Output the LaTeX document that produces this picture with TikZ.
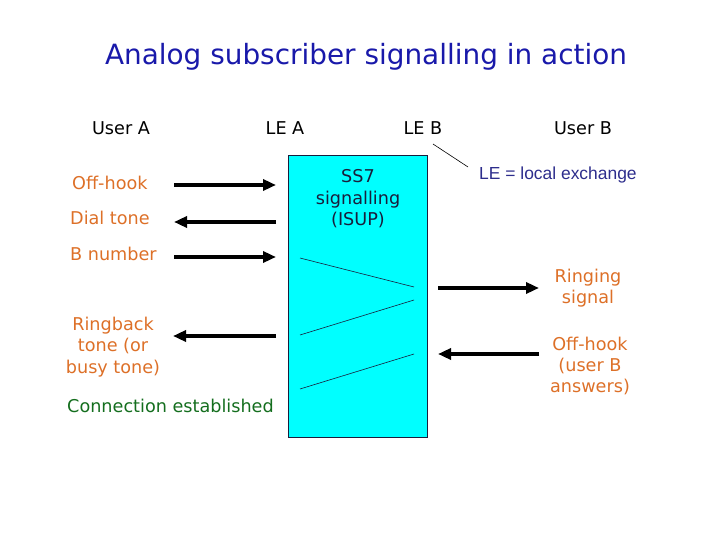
\documentclass[tikz,border=0pt]{standalone}
\usepackage{fontspec}
\setmainfont{DejaVu Sans}
\newfontfamily\legendfont{Liberation Sans}
\usetikzlibrary{arrows.meta, positioning}
\definecolor{titleblue}{RGB}{25,25,170}
\definecolor{sigorange}{RGB}{221,112,40}
\definecolor{legendblue}{RGB}{45,45,140}
\definecolor{okgreen}{RGB}{20,110,30}
\definecolor{isupink}{RGB}{25,30,60}
\definecolor{boxcyan}{RGB}{0,255,255}

\begin{document}
\begin{tikzpicture}[x=1bp, y=-1bp,
    hdr/.style  = {font=\fontsize{17.7}{21.5}\selectfont, inner sep=0pt},
    sig/.style  = {font=\fontsize{17.7}{21.5}\selectfont, text=sigorange,
                   align=center, inner sep=0pt},
    msg/.style  = {line width=3.5bp, -{Triangle[length=13bp, width=11bp]}},
    isup/.style = {line width=0.6bp, draw=isupink}
  ]
  \useasboundingbox (0,0) rectangle (720,540);

  % exchange box
  \node[draw=isupink, line width=1bp, fill=boxcyan, minimum width=139bp,
        minimum height=281bp, inner sep=0pt] (ss7box) at (357.5,296.5) {};

  \node[font=\fontsize{28}{34}\selectfont, text=titleblue] (title) at (366,57)
       {Analog subscriber signalling in action};

  \node[hdr] (usera) at (121,128) {User A};
  \node[hdr] (lea)   at (285,128) {LE A};
  \node[hdr] (leb)   at (423,128) {LE B};
  \node[hdr] (userb) at (583,128) {User B};

  \node[sig, anchor=west] (offhook) at (72,183) {Off-hook};
  \node[sig, anchor=west] (dial)    at (70,218) {Dial tone};
  \node[sig, anchor=west] (bnum)    at (70,254) {B number};
  \node[sig] (ringback) at (113,347) {Ringback\\tone (or\\busy tone)};
  \node[hdr, text=okgreen, anchor=west] (conn) at (67,406) {Connection established};

  \node[hdr, text=isupink, align=center] (ss7) at (358,199)
       {SS7\\signalling\\(ISUP)};
  \node[font=\legendfont\fontsize{17.5}{20}\selectfont, text=legendblue,
        anchor=west, inner sep=0pt] (legend) at (479,175) {LE = local exchange};

  \node[sig] (ringing) at (588,288) {Ringing\\signal};
  \node[sig] (answer)  at (590,366) {Off-hook\\(user B\\answers)};

  % message ends
  \coordinate (offA)  at (174,185);  \coordinate (offE)  at (276,185);
  \coordinate (dialA) at (174,222);  \coordinate (dialE) at (276,222);
  \coordinate (bnA)   at (174,257);  \coordinate (bnE)   at (276,257);
  \coordinate (rbA)   at (173,336);  \coordinate (rbE)   at (276,336);
  \coordinate (rgE)   at (438,288);  \coordinate (rgB)   at (539,288);
  \coordinate (ansE)  at (438,354);  \coordinate (ansB)  at (539,354);

  \draw[msg] (offA)  -- (offE);
  \draw[msg] (dialE) -- (dialA);
  \draw[msg] (bnA)   -- (bnE);
  \draw[msg] (rbE)   -- (rbA);
  \draw[msg] (rgE)   -- (rgB);
  \draw[msg] (ansB)  -- (ansE);

  % ISUP messages inside the box
  \coordinate (iamA) at (300,258);  \coordinate (iamB) at (414,287);
  \coordinate (acmB) at (414,300);  \coordinate (acmA) at (300,335);
  \coordinate (anmB) at (414,354);  \coordinate (anmA) at (300,389);
  \draw[isup] (iamA) -- (iamB);
  \draw[isup] (acmB) -- (acmA);
  \draw[isup] (anmB) -- (anmA);

  % legend pointer
  \coordinate (lebfoot) at (433,144);
  \coordinate (legtip)  at (468,167);
  \draw[line width=0.6bp] (lebfoot) -- (legtip);
\end{tikzpicture}
\end{document}
